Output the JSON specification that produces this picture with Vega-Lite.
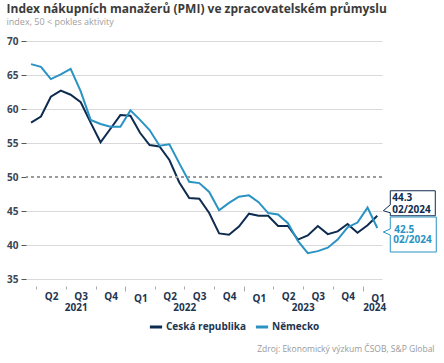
{
  "$schema": "https://vega.github.io/schema/vega-lite/v6.json",
  "width": 356,
  "height": 238,
  "autosize": "none",
  "padding": {"left": 26, "top": 41, "right": 62, "bottom": 84},
  "background": "white",
  "config": {
    "font": "Open Sans",
    "view": {"stroke": null},
    "axisY": {
      "labelOverlap": false, "labelFlush": false,
      "grid": true,
      "gridColor": {"condition": {"test": "datum.value === 50", "value": "transparent"}, "value": "#d9d9d9"},
      "domain": false, "tickSize": 5, "tickColor": "#555", "labelPadding": 3,
      "labelFontSize": 10, "labelFontWeight": "bold", "labelColor": "#3a4556"
    }
  },
  "title": {
    "text": "Index nákupních manažerů (PMI) ve zpracovatelském průmyslu",
    "subtitle": "index, 50 < pokles aktivity",
    "anchor": "start",
    "fontSize": 12,
    "fontWeight": "bold",
    "color": "#3b3b3b",
    "subtitleFontSize": 9,
    "subtitleColor": "#a0a0a0",
    "subtitlePadding": 2,
    "offset": 8
  },
  "datasets": {
    "pmi": [
      {"country": "Ceská republika", "month": "2021-03-01", "value": 58.0},
      {"country": "Ceská republika", "month": "2021-04-01", "value": 58.9},
      {"country": "Ceská republika", "month": "2021-05-01", "value": 61.8},
      {"country": "Ceská republika", "month": "2021-06-01", "value": 62.7},
      {"country": "Ceská republika", "month": "2021-07-01", "value": 62.1},
      {"country": "Ceská republika", "month": "2021-08-01", "value": 61.0},
      {"country": "Ceská republika", "month": "2021-09-01", "value": 58.0},
      {"country": "Ceská republika", "month": "2021-10-01", "value": 55.1},
      {"country": "Ceská republika", "month": "2021-11-01", "value": 57.1},
      {"country": "Ceská republika", "month": "2021-12-01", "value": 59.1},
      {"country": "Ceská republika", "month": "2022-01-01", "value": 59.0},
      {"country": "Ceská republika", "month": "2022-02-01", "value": 56.5},
      {"country": "Ceská republika", "month": "2022-03-01", "value": 54.7},
      {"country": "Ceská republika", "month": "2022-04-01", "value": 54.5},
      {"country": "Ceská republika", "month": "2022-05-01", "value": 52.5},
      {"country": "Ceská republika", "month": "2022-06-01", "value": 49.2},
      {"country": "Ceská republika", "month": "2022-07-01", "value": 46.9},
      {"country": "Ceská republika", "month": "2022-08-01", "value": 46.8},
      {"country": "Ceská republika", "month": "2022-09-01", "value": 44.7},
      {"country": "Ceská republika", "month": "2022-10-01", "value": 41.7},
      {"country": "Ceská republika", "month": "2022-11-01", "value": 41.5},
      {"country": "Ceská republika", "month": "2022-12-01", "value": 42.7},
      {"country": "Ceská republika", "month": "2023-01-01", "value": 44.6},
      {"country": "Ceská republika", "month": "2023-02-01", "value": 44.3},
      {"country": "Ceská republika", "month": "2023-03-01", "value": 44.3},
      {"country": "Ceská republika", "month": "2023-04-01", "value": 42.8},
      {"country": "Ceská republika", "month": "2023-05-01", "value": 42.8},
      {"country": "Ceská republika", "month": "2023-06-01", "value": 40.8},
      {"country": "Ceská republika", "month": "2023-07-01", "value": 41.4},
      {"country": "Ceská republika", "month": "2023-08-01", "value": 42.8},
      {"country": "Ceská republika", "month": "2023-09-01", "value": 41.6},
      {"country": "Ceská republika", "month": "2023-10-01", "value": 42.0},
      {"country": "Ceská republika", "month": "2023-11-01", "value": 43.1},
      {"country": "Ceská republika", "month": "2023-12-01", "value": 41.8},
      {"country": "Ceská republika", "month": "2024-01-01", "value": 42.9},
      {"country": "Ceská republika", "month": "2024-02-01", "value": 44.3},
      {"country": "Německo", "month": "2021-03-01", "value": 66.6},
      {"country": "Německo", "month": "2021-04-01", "value": 66.2},
      {"country": "Německo", "month": "2021-05-01", "value": 64.4},
      {"country": "Německo", "month": "2021-06-01", "value": 65.1},
      {"country": "Německo", "month": "2021-07-01", "value": 65.9},
      {"country": "Německo", "month": "2021-08-01", "value": 62.6},
      {"country": "Německo", "month": "2021-09-01", "value": 58.4},
      {"country": "Německo", "month": "2021-10-01", "value": 57.8},
      {"country": "Německo", "month": "2021-11-01", "value": 57.4},
      {"country": "Německo", "month": "2021-12-01", "value": 57.4},
      {"country": "Německo", "month": "2022-01-01", "value": 59.8},
      {"country": "Německo", "month": "2022-02-01", "value": 58.4},
      {"country": "Německo", "month": "2022-03-01", "value": 56.9},
      {"country": "Německo", "month": "2022-04-01", "value": 54.6},
      {"country": "Německo", "month": "2022-05-01", "value": 54.8},
      {"country": "Německo", "month": "2022-06-01", "value": 52.0},
      {"country": "Německo", "month": "2022-07-01", "value": 49.3},
      {"country": "Německo", "month": "2022-08-01", "value": 49.1},
      {"country": "Německo", "month": "2022-09-01", "value": 47.8},
      {"country": "Německo", "month": "2022-10-01", "value": 45.1},
      {"country": "Německo", "month": "2022-11-01", "value": 46.2},
      {"country": "Německo", "month": "2022-12-01", "value": 47.1},
      {"country": "Německo", "month": "2023-01-01", "value": 47.3},
      {"country": "Německo", "month": "2023-02-01", "value": 46.3},
      {"country": "Německo", "month": "2023-03-01", "value": 44.7},
      {"country": "Německo", "month": "2023-04-01", "value": 44.5},
      {"country": "Německo", "month": "2023-05-01", "value": 43.2},
      {"country": "Německo", "month": "2023-06-01", "value": 40.6},
      {"country": "Německo", "month": "2023-07-01", "value": 38.8},
      {"country": "Německo", "month": "2023-08-01", "value": 39.1},
      {"country": "Německo", "month": "2023-09-01", "value": 39.6},
      {"country": "Německo", "month": "2023-10-01", "value": 40.8},
      {"country": "Německo", "month": "2023-11-01", "value": 42.6},
      {"country": "Německo", "month": "2023-12-01", "value": 43.3},
      {"country": "Německo", "month": "2024-01-01", "value": 45.5},
      {"country": "Německo", "month": "2024-02-01", "value": 42.5}
    ]
  },
  "data": {"name": "pmi"},
  "resolve": {"axis": {"x": "independent"}},
  "layer": [
    {
      "mark": {"type": "line", "strokeWidth": 2},
      "encoding": {
        "x": {
          "field": "month", "type": "temporal", "timeUnit": "utcyearmonth", "bandPosition": 0.5,
          "scale": {"domain": [{"year": 2021, "month": 3, "date": 1, "utc": true}, {"year": 2024, "month": 3, "date": 1, "utc": true}]},
          "axis": {
            "orient": "bottom", "title": null, "grid": false, "domain": false,
            "tickCount": {"interval": "month", "step": 3},
            "labelExpr": "'Q' + utcquarter(datum.value)",
            "labelOffset": 15, "labelFlush": false, "labelOverlap": false,
            "tickColor": "#a8a8a8",
            "tickSize": {"condition": {"test": "utcmonth(datum.value) === 0", "value": 5}, "value": 3},
            "offset": 7, "labelPadding": 2,
            "labelFontSize": 10, "labelFontWeight": "bold", "labelColor": "#22354f"
          }
        },
        "y": {
          "field": "value", "type": "quantitative", "title": null,
          "scale": {"domain": [35, 70], "nice": false, "zero": false}
        },
        "color": {
          "field": "country", "type": "nominal",
          "scale": {"domain": ["Ceská republika", "Německo"], "range": ["#0e2b50", "#2a93c3"]},
          "legend": {
            "orient": "none", "legendX": 122, "legendY": 278, "direction": "horizontal",
            "title": null, "symbolType": "stroke", "symbolStrokeWidth": 3, "symbolSize": 150,
            "labelFontSize": 10, "labelFontWeight": "bold", "labelColor": "#22354f",
            "columnPadding": 2, "labelOffset": 2
          }
        }
      }
    },
    {
      "mark": {"type": "rule", "stroke": "#9a9a9a", "strokeWidth": 1, "strokeDash": [3, 3]},
      "encoding": {"y": {"datum": 50, "type": "quantitative", "title": null}}
    },
    {
      "transform": [
        {"filter": {"field": "country", "equal": "Ceská republika"}},
        {"filter": {"field": "month", "timeUnit": "utcyearmonth", "equal": {"year": 2024, "month": 2, "utc": true}}}
      ],
      "mark": {"type": "point", "shape": "M13,-25H58V0H13V-3L6,-5L13,-11Z", "size": 4, "filled": true, "fill": "white", "stroke": "#0e2b50", "strokeWidth": 1, "opacity": 1},
      "encoding": {
        "x": {
          "field": "month", "type": "temporal", "timeUnit": "utcyearmonth", "bandPosition": 0.5,
          "axis": {
            "orient": "bottom", "grid": false, "domain": false, "ticks": false,
            "values": [
              {"year": 2021, "month": 8, "date": 1, "utc": true},
              {"year": 2022, "month": 7, "date": 1, "utc": true},
              {"year": 2023, "month": 7, "date": 1, "utc": true},
              {"year": 2024, "month": 2, "date": 6, "utc": true}
            ],
            "format": "%Y", "labelFlush": false, "labelOverlap": false,
            "offset": 7, "labelPadding": 16,
            "labelFontSize": 10, "labelFontWeight": "bold", "labelColor": "#22354f",
            "title": "Zdroj: Ekonomický výzkum ČSOB, S&P Global",
            "titleX": 408, "titleY": 62, "titleAlign": "right", "titleAnchor": "end", "titleBaseline": "middle",
            "titleFontSize": 8.5, "titleFontWeight": "normal", "titleColor": "#9a9a9a"
          }
        },
        "y": {"field": "value", "type": "quantitative", "title": null}
      }
    },
    {
      "transform": [
        {"filter": {"field": "country", "equal": "Německo"}},
        {"filter": {"field": "month", "timeUnit": "utcyearmonth", "equal": {"year": 2024, "month": 2, "utc": true}}}
      ],
      "mark": {"type": "point", "shape": "M13,-11H59V24H13V7L6,4L13,1Z", "size": 4, "filled": true, "fill": "white", "stroke": "#2a93c3", "strokeWidth": 1, "opacity": 1},
      "encoding": {
        "x": {"field": "month", "type": "temporal", "timeUnit": "utcyearmonth", "bandPosition": 0.5, "axis": null},
        "y": {"field": "value", "type": "quantitative", "title": null}
      }
    },
    {
      "transform": [
        {"filter": {"field": "country", "equal": "Ceská republika"}},
        {"filter": {"field": "month", "timeUnit": "utcyearmonth", "equal": {"year": 2024, "month": 2, "utc": true}}}
      ],
      "mark": {"type": "text", "align": "left", "baseline": "top", "dx": 15, "dy": -23, "fontSize": 10, "fontWeight": "bold", "color": "#0e2b50"},
      "encoding": {
        "x": {"field": "month", "type": "temporal", "timeUnit": "utcyearmonth", "bandPosition": 0.5, "axis": null},
        "y": {"field": "value", "type": "quantitative", "title": null},
        "text": {"field": "value", "type": "quantitative", "format": ".1f"}
      }
    },
    {
      "transform": [
        {"filter": {"field": "country", "equal": "Ceská republika"}},
        {"filter": {"field": "month", "timeUnit": "utcyearmonth", "equal": {"year": 2024, "month": 2, "utc": true}}}
      ],
      "mark": {"type": "text", "align": "left", "baseline": "top", "dx": 15, "dy": -11, "fontSize": 10, "fontWeight": "bold", "color": "#0e2b50"},
      "encoding": {
        "x": {"field": "month", "type": "temporal", "timeUnit": "utcyearmonth", "bandPosition": 0.5, "axis": null},
        "y": {"field": "value", "type": "quantitative", "title": null},
        "text": {"field": "month", "type": "temporal", "timeUnit": "utcyearmonth", "format": "%m/%Y"}
      }
    },
    {
      "transform": [
        {"filter": {"field": "country", "equal": "Německo"}},
        {"filter": {"field": "month", "timeUnit": "utcyearmonth", "equal": {"year": 2024, "month": 2, "utc": true}}}
      ],
      "mark": {"type": "text", "align": "left", "baseline": "top", "dx": 17, "dy": -3, "fontSize": 10, "fontWeight": "bold", "color": "#2a93c3"},
      "encoding": {
        "x": {"field": "month", "type": "temporal", "timeUnit": "utcyearmonth", "bandPosition": 0.5, "axis": null},
        "y": {"field": "value", "type": "quantitative", "title": null},
        "text": {"field": "value", "type": "quantitative", "format": ".1f"}
      }
    },
    {
      "transform": [
        {"filter": {"field": "country", "equal": "Německo"}},
        {"filter": {"field": "month", "timeUnit": "utcyearmonth", "equal": {"year": 2024, "month": 2, "utc": true}}}
      ],
      "mark": {"type": "text", "align": "left", "baseline": "top", "dx": 16, "dy": 7, "fontSize": 10, "fontWeight": "bold", "color": "#2a93c3"},
      "encoding": {
        "x": {"field": "month", "type": "temporal", "timeUnit": "utcyearmonth", "bandPosition": 0.5, "axis": null},
        "y": {"field": "value", "type": "quantitative", "title": null},
        "text": {"field": "month", "type": "temporal", "timeUnit": "utcyearmonth", "format": "%m/%Y"}
      }
    }
  ]
}
